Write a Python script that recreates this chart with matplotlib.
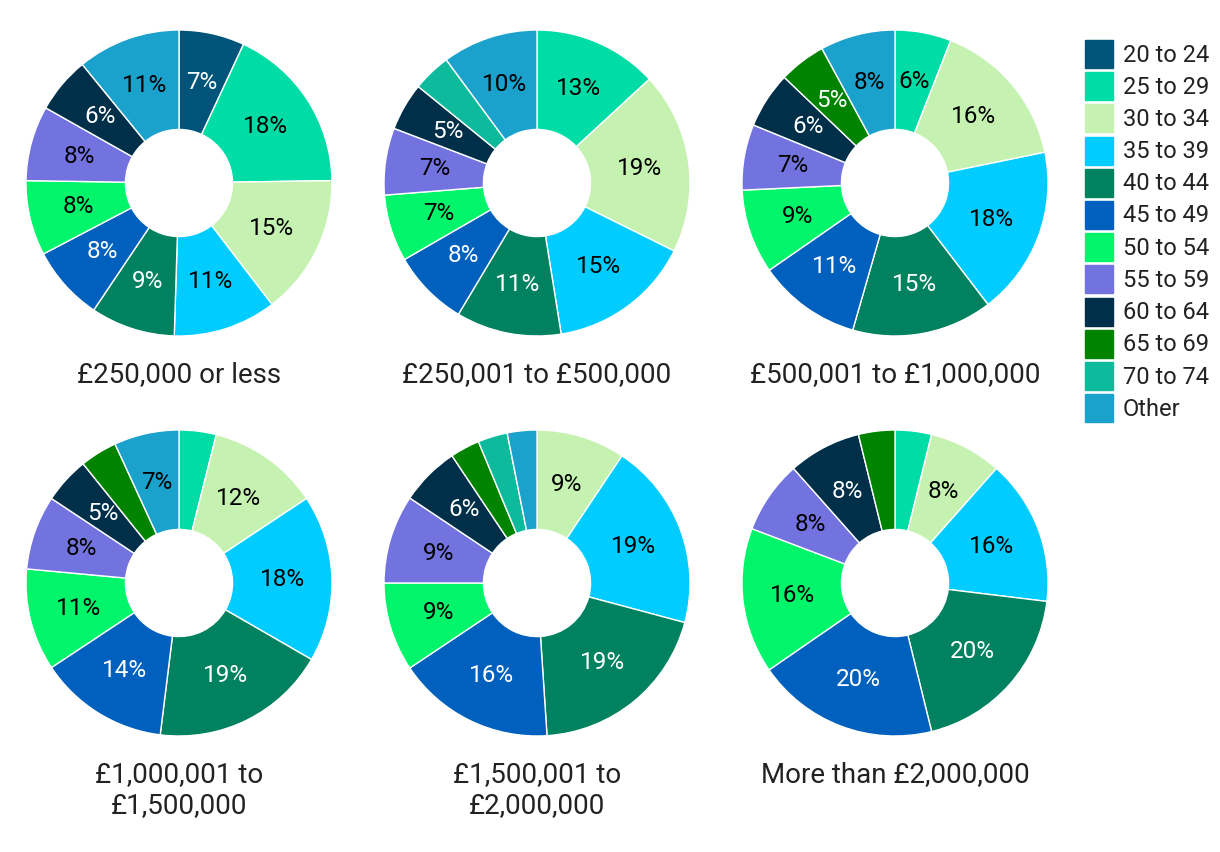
import numpy as np
import matplotlib
matplotlib.use("Agg")
import matplotlib.pyplot as plt

plt.rcParams['font.family'] = ['Roboto', 'DejaVu Sans']

age_groups = ['20 to 24', '25 to 29', '30 to 34', '35 to 39', '40 to 44', '45 to 49',
              '50 to 54', '55 to 59', '60 to 64', '65 to 69', '70 to 74', 'Other']
colors = ['#005379', '#00dca5', '#c5f2b0', '#00ccff', '#00815f', '#0060be',
          '#00f56b', '#7373e0', '#003049', '#008400', '#0dbb9c', '#1aa1cc']
dark = ['#005379', '#00815f', '#0060be', '#003049', '#008400']

titles = ['£250,000 or less', '£250,001 to £500,000', '£500,001 to £1,000,000',
          '£1,000,001 to\n£1,500,000', '£1,500,001 to\n£2,000,000', 'More than £2,000,000']

# percent share per age group, same order as age_groups
band1 = [7, 18, 15, 11, 9, 8, 8, 8, 6, 0, 0, 11]
band2 = [0, 13, 19, 15, 11, 8, 7, 7, 5, 0, 4, 10]
band3 = [0, 6, 16, 18, 15, 11, 9, 7, 6, 5, 0, 8]
band4 = [0, 4, 12, 18, 19, 14, 11, 8, 5, 4, 0, 7]
band5 = [0, 0, 9, 19, 19, 16, 9, 9, 6, 3, 3, 3]
band6 = [0, 4, 8, 16, 20, 20, 16, 8, 8, 4, 0, 0]
bands = [band1, band2, band3, band4, band5, band6]

W, H = 1220, 852
fig = plt.figure(figsize=(W / 100, H / 100), dpi=100)

centers = [(179, 183), (537, 183), (895, 183), (179, 583), (537, 583), (895, 583)]
R = 153
hole = 0.35

for vals, title, (cx, cy) in zip(bands, titles, centers):
    ax = fig.add_axes([(cx - R) / W, 1 - (cy + R) / H, 2 * R / W, 2 * R / H])
    vals = np.array(vals, dtype=float)
    keep = vals > 0
    wedges, _ = ax.pie(vals[keep], colors=np.array(colors)[keep], startangle=90,
                       counterclock=False, radius=1, frame=True,
                       wedgeprops=dict(width=1 - hole, edgecolor='white', linewidth=1))
    ax.set_xlim(-1, 1)
    ax.set_ylim(-1, 1)
    ax.axis('off')
    for w, v, c in zip(wedges, vals[keep], np.array(colors)[keep]):
        if v < 5:
            continue
        ang = np.deg2rad((w.theta1 + w.theta2) / 2)
        r = (1 + hole) / 2
        ax.text(r * np.cos(ang), r * np.sin(ang), f'{int(v)}%', ha='center', va='center',
                fontsize=17.5, color='white' if c in dark else 'black')
    ty = cy + R + 25
    fig.text(cx / W, 1 - ty / H, title, ha='center', va='top', fontsize=20,
             color='#222222', linespacing=1.2)

# legend
for i, (lab, col) in enumerate(zip(age_groups, colors)):
    y = 54 + i * 32.2
    fig.patches.append(plt.Rectangle((1085 / W, 1 - (y + 14) / H), 28 / W, 28 / H,
                                     transform=fig.transFigure, color=col))
    fig.text(1123 / W, 1 - (y + 1) / H, lab, ha='left', va='center', fontsize=17, color='#222222')

fig.savefig('out.png', dpi=100)
